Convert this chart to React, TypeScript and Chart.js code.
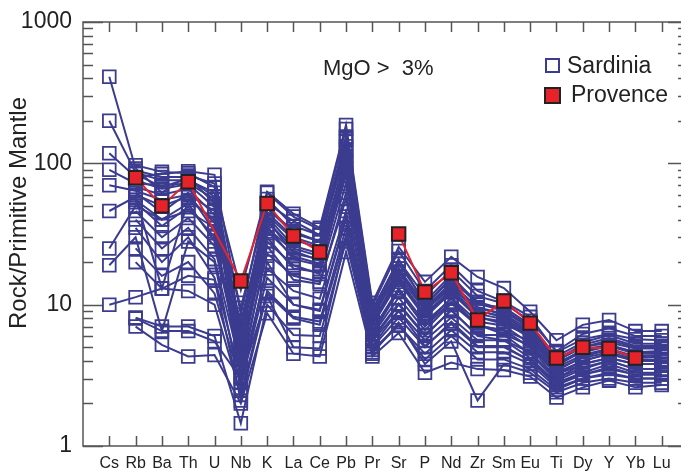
import React, { useEffect, useRef } from "react";
import { Chart, registerables } from "chart.js";

Chart.register(...registerables);

const categories = ["Cs", "Rb", "Ba", "Th", "U", "Nb", "K", "La", "Ce", "Pb", "Pr", "Sr", "P", "Nd", "Zr", "Sm", "Eu", "Ti", "Dy", "Y", "Yb", "Lu"];
const yTickLabels = [1, 10, 100, 1000];

const provence = [null, 79, 50, 74, null, 14.7, 52, 30.6, 23.6, null, null, 31.6, 12.3, 16.8, 7.8, 10.6, 7.4, 4.2, 5.0, 4.9, 4.2, null];

const sardinia01 = [410, 92, 62, 82, 72, 6.5, 48, 32, 28, 125, 8, 18, 9, 14, 9.5, 8.5, 6.2, 3.9, 4.6, 5.1, 4.6, 4.6];
const sardinia02 = [200, 86, 76, 76, 62, 5.5, 56, 36, 31, 155, 9, 21, 10, 15.5, 10.5, 9.2, 7, 4.1, 5, 5.6, 5, 5];
const sardinia03 = [118, 80, 84, 88, 83, 8.5, 62, 42, 34, 175, 9.8, 24, 12.5, 19, 12.5, 10.5, 8.2, 4.6, 5.7, 6.2, 5.7, 5.6];
const sardinia04 = [90, 72, 70, 72, 56, 4.2, 42, 26, 23, 105, 7.2, 15.5, 8.3, 12.5, 8.2, 7.3, 6, 3.5, 4.2, 4.6, 4.1, 4.1];
const sardinia05 = [70, 64, 55, 60, 46, 3.6, 36, 21, 19, 82, 6.2, 12.5, 7, 10.5, 7.2, 6.2, 5.1, 3.2, 3.8, 4.2, 3.8, 3.8];
const sardinia06 = [46, 58, 13, 55, 40, 5, 30, 18, 17, 92, 6.6, 13, 7.5, 11, 7.1, 6.6, 5.5, 3.3, 4, 4.5, 4, 4];
const sardinia07 = [25, 50, 40, 46, 35, 3.1, 26, 15, 14, 62, 5.6, 10, 6, 9.2, 6, 5.6, 4.6, 3, 3.6, 4, 3.5, 3.5];
const sardinia08 = [19, 30, 6.5, 28, 20, 2.5, 20, 10, 9.2, 42, 5.1, 9, 5.1, 7.3, 5, 5, 4, 2.8, 3.2, 3.6, 3.2, 3.2];
const sardinia09 = [10, 11.3, 13, 16, 15, 2.1, 12, 8, 7.2, 31, 4.6, 7.2, 4.1, 6, 4.1, 4.1, 3.5, 2.5, 3, 3.2, 3, 3];
const sardinia10 = [null, 97, 87, 85, 68, 12.7, 63, 44, 35, 187, 10.3, 25.6, 14.5, 21.8, 15.7, 13.1, 8.9, 5.6, 7.2, 7.8, 6.5, 6.5];
const sardinia11 = [null, 89, 80, 80, 52, 9.5, 52, 39, 31, 145, 9.2, 20.5, 11.5, 17.5, 11.5, 10.2, 7.7, 4.7, 6.2, 6.8, 6, 6];
const sardinia12 = [null, 76, 66, 71, 49, 7.2, 49, 33, 28, 132, 8.6, 19.5, 10.5, 16.2, 10, 9.6, 7.2, 4.3, 5.4, 6.1, 5.3, 5.3];
const sardinia13 = [null, 68, 60, 66, 43, 6.6, 43, 29, 25, 112, 8.1, 17, 9.6, 14.2, 9.6, 8.6, 6.6, 4, 5, 5.4, 4.9, 4.9];
const sardinia14 = [null, 60, 50, 58, 38, 5.6, 39, 25, 22, 102, 7.6, 16, 9.1, 13.2, 9.1, 8.1, 6.1, 3.7, 4.7, 5.1, 4.5, 4.5];
const sardinia15 = [null, 53, 36, 49, 30, 4.6, 33, 22, 19.5, 86, 7.1, 14.5, 8.1, 12.2, 8.1, 7.6, 5.8, 3.4, 4.3, 4.8, 4.2, 4.3];
const sardinia16 = [null, 46, 30, 41, 26, 4.1, 28, 19, 16.5, 72, 6.6, 12.5, 7.1, 11.2, 7.6, 7.1, 5.3, 3.2, 4, 4.5, 4, 4];
const sardinia17 = [null, 40, 25, 35, 21, 3.6, 23, 16, 14.5, 56, 6.1, 11.2, 6.6, 10.2, 7.1, 6.6, 5, 3, 3.8, 4.2, 3.8, 3.8];
const sardinia18 = [null, 35, 20, 30, 15.5, 3.1, 18, 12.5, 11, 46, 5.8, 10.2, 6.1, 9.1, 6.1, 6.1, 4.5, 2.9, 3.5, 4, 3.5, 3.5];
const sardinia19 = [null, 25, 16, 20, 12, 2.8, 15.5, 10, 9, 40, 5.5, 9.1, 5.6, 8.1, 5.6, 5.6, 4.2, 2.8, 3.3, 3.8, 3.3, 3.3];
const sardinia20 = [null, 20, 13, 12.5, 10, 2.3, 12.5, 8.2, 7.6, 35, 5, 8.1, 5, 7.6, 5.1, 5.1, 4, 2.7, 3.2, 3.5, 3.2, 3.2];
const sardinia21 = [null, 8.1, 7, 7, 6, 1.45, 10, 6.1, 6, 28, 4.8, 7.1, 4.5, 6.6, 4.6, 4.6, 3.8, 2.6, 3, 3.3, 3, 3];
const sardinia22 = [null, 7, 5.2, 4.3, 4.4, 2, 8.7, 4.5, 4.3, 23.6, 4.3, 6.3, 3.3, 3.9, 3.5, 3.45, 3.1, 2.2, 2.6, 2.9, 2.6, 2.7];
const sardinia23 = [null, 8, 6.5, 6.5, 5.5, 3, 11.5, 5, 4.9, 30, 4.5, 7.5, 3.8, 5.5, 2.1, 3.8, 3.3, 2.4, 2.8, 3, 2.8, 2.8];
const sardinia24 = [null, 62, 45, 62, 33, 7.5, 45, 30, 26, 150, 8.4, 18, 10, 15, 10.2, 9, 6.8, 4.1, 5.2, 5.8, 5.1, 5.1];
const sardinia25 = [null, 55, 40, 52, 28, 4.8, 35, 24, 20.5, 120, 7.3, 15, 8.6, 12.8, 8.6, 7.9, 5.9, 3.6, 4.4, 4.9, 4.3, 4.4];
const sardinia26 = [null, 84, 68, 78, 58, 6, 40, 23, 21, 95, 7, 17, 9.4, 13.6, 9, 8.3, 6.4, 3.8, 4.8, 5.2, 4.6, 4.7];

const sardiniaSamples = [
  sardinia01, sardinia02, sardinia03, sardinia04, sardinia05, sardinia06, sardinia07,
  sardinia08, sardinia09, sardinia10, sardinia11, sardinia12, sardinia13, sardinia14,
  sardinia15, sardinia16, sardinia17, sardinia18, sardinia19, sardinia20, sardinia21,
  sardinia22, sardinia23, sardinia24, sardinia25, sardinia26,
];

const NAVY = "#3b3b8f";
const RED = "#e6222b";
const FONT = "'Liberation Sans', Arial, Helvetica, sans-serif";

const toPoints = (arr: (number | null)[]) => arr.map((v, i) => ({ x: i, y: v }));

// bridges across single missing values (line only, no marker)
const singleGapBridges = (arr: (number | null)[]) => {
  const out: { x: number; y: number }[][] = [];
  for (let i = 1; i < arr.length - 1; i++) {
    if (arr[i] == null && arr[i - 1] != null && arr[i + 1] != null) {
      out.push([{ x: i - 1, y: arr[i - 1] as number }, { x: i + 1, y: arr[i + 1] as number }]);
    }
  }
  return out;
};

const decorPlugin = {
  id: "decor",
  beforeDatasetsDraw(chart: any) {
    const { ctx, chartArea, scales } = chart;
    const { left, right, top, bottom } = chartArea;
    const xs = scales.x;
    const ys = scales.y;
    ctx.save();
    ctx.strokeStyle = "#555";
    ctx.lineWidth = 1.5;
    ctx.strokeRect(left, top, right - left, bottom - top);
    ctx.beginPath();
    categories.forEach((_, i) => {
      const px = Math.round(xs.getPixelForValue(i)) + 0.5;
      ctx.moveTo(px, top);
      ctx.lineTo(px, top + 10);
      ctx.moveTo(px, bottom);
      ctx.lineTo(px, bottom - 10);
    });
    for (const d of [1, 10, 100]) {
      for (let m = 1; m <= 10; m++) {
        const v = d * m;
        const len = m === 1 || m === 10 ? 20 : 10;
        const py = Math.round(ys.getPixelForValue(v)) + 0.5;
        ctx.moveTo(left, py);
        ctx.lineTo(left + len, py);
        ctx.moveTo(right, py);
        ctx.lineTo(right - len, py);
      }
    }
    ctx.stroke();
    ctx.restore();
  },
  afterDraw(chart: any) {
    const { ctx } = chart;
    ctx.save();
    ctx.fillStyle = "#222";
    ctx.save();
    ctx.translate(26, 213);
    ctx.rotate(-Math.PI / 2);
    ctx.font = `24px ${FONT}`;
    ctx.textAlign = "center";
    ctx.textBaseline = "alphabetic";
    ctx.fillText("Rock/Primitive Mantle", 0, 0);
    ctx.restore();
    ctx.font = `22px ${FONT}`;
    ctx.textAlign = "left";
    ctx.textBaseline = "alphabetic";
    ctx.fillText("MgO >  3%", 323, 75);
    ctx.lineWidth = 2;
    ctx.strokeStyle = NAVY;
    ctx.strokeRect(546, 59, 13, 13);
    ctx.fillStyle = RED;
    ctx.fillRect(545, 88, 15, 15);
    ctx.strokeStyle = "#222";
    ctx.strokeRect(545, 88, 15, 15);
    ctx.fillStyle = "#222";
    ctx.font = `23px ${FONT}`;
    ctx.fillText("Sardinia", 567, 73);
    ctx.fillText("Provence", 571, 102);
    ctx.restore();
  },
};

export default function App() {
  const ref = useRef<HTMLCanvasElement | null>(null);
  useEffect(() => {
    if (!ref.current) return;
    const sardiniaSets = sardiniaSamples.map((s, k) => ({
      label: k === 0 ? "Sardinia" : `Sardinia ${k + 1}`,
      data: toPoints(s),
      borderColor: NAVY,
      borderWidth: 2,
      pointStyle: "rect",
      pointRadius: 9,
      pointBorderWidth: 1.8,
      pointBorderColor: NAVY,
      pointBackgroundColor: "rgba(0,0,0,0)",
      spanGaps: false,
      tension: 0,
      fill: false,
    }));
    const provenceSet = {
      label: "Provence",
      data: toPoints(provence),
      borderColor: RED,
      borderWidth: 2,
      pointStyle: "rect",
      pointRadius: 9.5,
      pointBorderWidth: 2,
      pointBorderColor: "#222",
      pointBackgroundColor: RED,
      spanGaps: false,
      tension: 0,
      fill: false,
    };
    const bridgeSets = singleGapBridges(provence).map((pts, k) => ({
      label: `Provence bridge ${k + 1}`,
      data: pts,
      borderColor: RED,
      borderWidth: 2,
      pointRadius: 0,
      tension: 0,
      fill: false,
    }));
    const chart = new Chart(ref.current, {
      type: "line",
      data: { datasets: [provenceSet, ...bridgeSets, ...sardiniaSets] as any },
      options: {
        responsive: false,
        animation: false,
        layout: { padding: { left: 0, top: 22, right: 12, bottom: 0 } },
        plugins: { legend: { display: false }, tooltip: { enabled: false } },
        scales: {
          x: {
            type: "linear",
            min: -1,
            max: 22,
            grid: { display: false },
            border: { display: false },
            afterFit: (s: any) => { s.height = 28; },
            afterBuildTicks: (s: any) => {
              s.ticks = categories.map((_, i) => ({ value: i }));
            },
            ticks: {
              autoSkip: false,
              maxRotation: 0,
              padding: 0,
              color: "#222",
              font: { family: FONT, size: 16 },
              callback: (v: any) => categories[v] ?? "",
            },
          },
          y: {
            type: "logarithmic",
            min: 1,
            max: 1000,
            grid: { display: false },
            border: { display: false },
            afterFit: (s: any) => { s.width = 83; },
            afterBuildTicks: (s: any) => {
              s.ticks = yTickLabels.map((v) => ({ value: v }));
            },
            ticks: {
              autoSkip: false,
              padding: 3,
              color: "#222",
              font: { family: FONT, size: 23 },
              callback: (v: any) => String(v),
            },
          },
        },
      },
      plugins: [decorPlugin],
    });
    return () => chart.destroy();
  }, []);
  return (
    <div style={{ position: "fixed", left: 0, top: 0, width: 681, height: 474, overflow: "hidden", background: "#fff" }}>
      <canvas ref={ref} width={700} height={474} style={{ display: "block", width: 700, height: 474 }} />
    </div>
  );
}
